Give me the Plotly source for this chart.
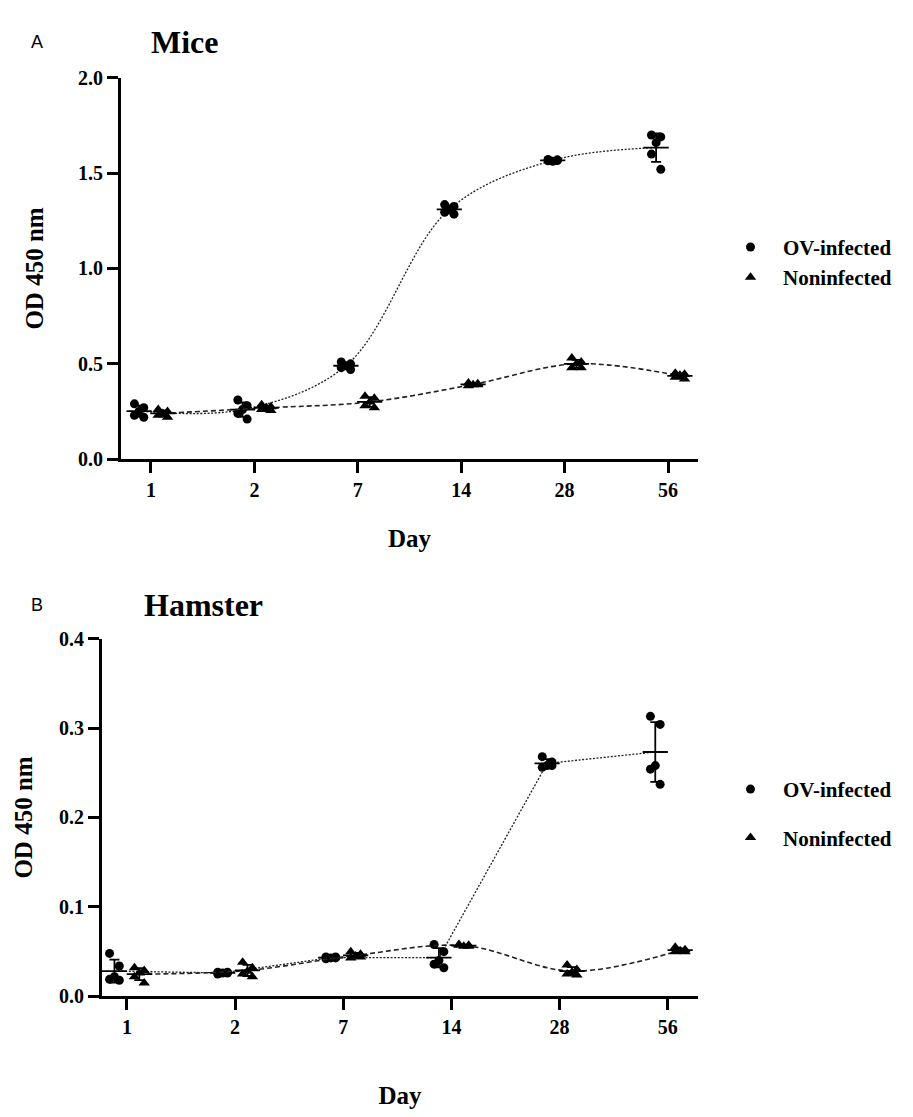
import numpy as np
import plotly.graph_objects as go

W, H = 913, 1117

days = ["1", "2", "7", "14", "28", "56"]

# Mice (panel A) - individual replicate values per day
mice_ov = [
    [0.29, 0.27, 0.25, 0.23, 0.22],
    [0.31, 0.28, 0.26, 0.24, 0.21],
    [0.51, 0.50, 0.49, 0.48, 0.47],
    [1.335, 1.325, 1.31, 1.295, 1.285],
    [1.572, 1.566, 1.562, 1.565, 1.57],
    [1.70, 1.69, 1.66, 1.60, 1.52],
]
mice_non = [
    [0.26, 0.25, 0.24, 0.23, 0.22],
    [0.285, 0.275, 0.27, 0.26, 0.255],
    [0.33, 0.32, 0.30, 0.28, 0.27],
    [0.40, 0.395, 0.39, 0.385, 0.39],
    [0.53, 0.51, 0.50, 0.48, 0.48],
    [0.45, 0.445, 0.44, 0.43, 0.42],
]

# Hamster (panel B)
ham_ov = [
    [0.048, 0.034, 0.022, 0.019, 0.018],
    [0.027, 0.026, 0.026, 0.025, 0.027],
    [0.044, 0.043, 0.043, 0.042, 0.044],
    [0.058, 0.050, 0.040, 0.036, 0.032],
    [0.268, 0.262, 0.258, 0.256, 0.258],
    [0.313, 0.304, 0.258, 0.254, 0.237],
]
ham_non = [
    [0.032, 0.029, 0.026, 0.022, 0.015],
    [0.038, 0.032, 0.028, 0.025, 0.022],
    [0.050, 0.047, 0.045, 0.043, 0.044],
    [0.058, 0.057, 0.056, 0.057, 0.056],
    [0.035, 0.030, 0.027, 0.025, 0.024],
    [0.055, 0.052, 0.051, 0.050, 0.050],
]

OFF = 0.115
JIT = [-0.045, 0.045, 0.0, -0.045, 0.045]
SERIF = "Liberation Serif, Times New Roman, serif"
SANS = "Liberation Sans, Arial, sans-serif"

fig = go.Figure()


def add_panel(ov, non, xa, ya, legend, line_ov_shape):
    for data, name, sym, sign, dash, shape, lw in [
        (ov, "OV-infected", "circle", -1, "2px,1.6px", line_ov_shape, 1.3),
        (non, "Noninfected", "triangle-up", 1, "5px,3px", "spline", 1.6),
    ]:
        arr = np.array(data)
        means = arr.mean(axis=1)
        sd = arr.std(axis=1, ddof=1)
        xc = np.arange(len(days)) + sign * OFF
        fig.add_trace(go.Scatter(
            x=xc, y=means, mode="lines", xaxis=xa, yaxis=ya,
            line=dict(color="#222222", width=lw, dash=dash, shape=shape, smoothing=1.0),
            showlegend=False, hoverinfo="skip"))
        px, py = [], []
        for i, row in enumerate(data):
            for j, v in enumerate(row):
                px.append(xc[i] + JIT[j])
                py.append(v)
        fig.add_trace(go.Scatter(
            x=px, y=py, mode="markers", name=name, xaxis=xa, yaxis=ya,
            legend=legend, legendgroup=name,
            marker=dict(symbol=sym, size=9 if sym == "circle" else 10, color="black",
                        line=dict(width=0)),
            showlegend=True))
        fig.add_trace(go.Scatter(
            x=xc, y=means, mode="markers", xaxis=xa, yaxis=ya,
            marker=dict(symbol="line-ew-open", size=18,
                        line=dict(width=1.8, color="black"), color="black"),
            error_y=dict(type="data", array=sd, visible=True,
                         color="black", thickness=1.8, width=5),
            showlegend=False, hoverinfo="skip"))


add_panel(mice_ov, mice_non, "x", "y", "legend", "spline")
add_panel(ham_ov, ham_non, "x2", "y2", "legend2", "linear")

axis_common = dict(
    showline=True, linecolor="black", linewidth=2.8, showgrid=False,
    zeroline=False, ticks="outside", ticklen=11, tickwidth=2.8, tickcolor="black",
    tickfont=dict(family=SERIF, size=20, color="black", weight="bold"),
)
title_font = dict(family=SERIF, size=25, color="black", weight="bold")
legend_font = dict(family=SERIF, size=21, color="black", weight="bold")

fig.update_layout(
    width=W, height=H,
    margin=dict(l=0, r=0, t=0, b=0),
    paper_bgcolor="white", plot_bgcolor="white",
    xaxis=dict(domain=[113 / W, 690 / W], anchor="y",
               range=[-0.29, 5.29], tickvals=list(range(6)), ticktext=days,
               title=dict(text="Day", standoff=30, font=title_font),
               **axis_common),
    yaxis=dict(domain=[1 - 449 / H, 1 - 60 / H], anchor="x",
               range=[0, 2.0], tickvals=[0, 0.5, 1.0, 1.5, 2.0],
               ticktext=["0.0", "0.5", "1.0", "1.5", "2.0"],
               title=dict(text="OD 450 nm", standoff=28, font=title_font),
               **axis_common),
    xaxis2=dict(domain=[94 / W, 690 / W], anchor="y2",
                range=[-0.23, 5.28], tickvals=list(range(6)), ticktext=days,
                title=dict(text="Day", standoff=50, font=title_font),
                **axis_common),
    yaxis2=dict(domain=[1 - 997 / H, 1 - 632 / H], anchor="x2",
                range=[0, 0.4], tickvals=[0, 0.1, 0.2, 0.3, 0.4],
                ticktext=["0.0", "0.1", "0.2", "0.3", "0.4"],
                title=dict(text="OD 450 nm", standoff=20, font=title_font),
                **axis_common),
    legend=dict(x=710 / W, y=1 - 212 / H, xanchor="left", yanchor="top",
                font=legend_font, tracegroupgap=0, itemwidth=55,
                bgcolor="rgba(0,0,0,0)"),
    legend2=dict(x=710 / W, y=1 - 765 / H, xanchor="left", yanchor="top",
                 font=legend_font, tracegroupgap=18, itemwidth=55,
                 bgcolor="rgba(0,0,0,0)"),
    annotations=[
        dict(text="A", x=29 / W, y=1 - 23 / H, xref="paper", yref="paper",
             showarrow=False, xanchor="center", yanchor="middle",
             font=dict(family=SANS, size=18, color="black")),
        dict(text="Mice", x=177 / W, y=1 - 23 / H, xref="paper", yref="paper",
             showarrow=False, xanchor="center", yanchor="middle",
             font=dict(family=SERIF, size=32, color="black", weight="bold")),
        dict(text="B", x=29 / W, y=1 - 598 / H, xref="paper", yref="paper",
             showarrow=False, xanchor="center", yanchor="middle",
             font=dict(family=SANS, size=18, color="black")),
        dict(text="Hamster", x=195 / W, y=1 - 598 / H, xref="paper", yref="paper",
             showarrow=False, xanchor="center", yanchor="middle",
             font=dict(family=SERIF, size=32, color="black", weight="bold")),
    ],
)

fig.write_html("out.html")
